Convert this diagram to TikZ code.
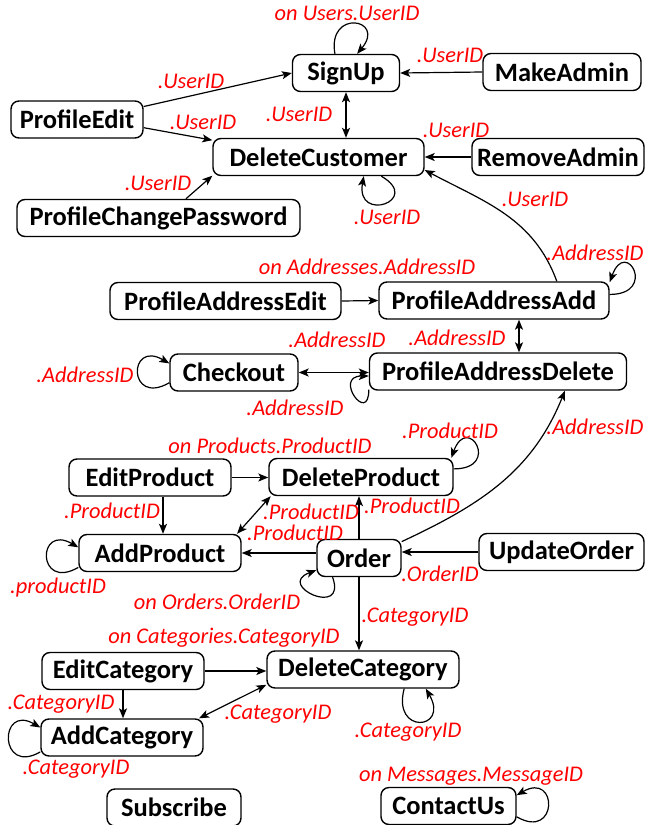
\documentclass[tikz,border=0pt]{standalone}
\usepackage{fontspec}
\setmainfont{Carlito}
\usetikzlibrary{arrows.meta}

\begin{document}
\begin{tikzpicture}[x=0.5pt,y=0.5pt,
    >={Stealth[length=5pt,width=4pt,inset=1.2pt]},
    page/.style={draw,rounded corners=4pt,line width=0.7pt,minimum height=18.5pt,inner sep=0pt,
        font=\fontsize{13.25}{15}\selectfont\bfseries},
    key/.style={text=red,inner sep=0pt,font=\fontsize{11.2}{13}\selectfont\itshape},
    ref/.style={->,line width=0.6pt},
    refboth/.style={<->,line width=0.6pt},
    selfref/.style={->,line width=0.6pt,distance=24pt},
    sideref/.style={->,line width=0.6pt,distance=24pt}]
    \useasboundingbox (0,0) rectangle (645,-825);

    \node[page,minimum width=53.5pt] (signup) at (346,-73) {SignUp};
    \node[page,minimum width=79pt] (makeadmin) at (562,-72) {MakeAdmin};
    \node[page,minimum width=66pt] (profileedit) at (77,-119.5) {ProfileEdit};
    \node[page,minimum width=105.5pt] (deletecustomer) at (318.5,-157) {DeleteCustomer};
    \node[page,minimum width=86pt] (removeadmin) at (558,-157) {RemoveAdmin};
    \node[page,minimum width=141.5pt] (profilechangepassword) at (158.5,-218) {ProfileChangePassword};
    \node[page,minimum width=115.5pt] (profileaddressedit) at (225.5,-301) {ProfileAddressEdit};
    \node[page,minimum width=115pt] (profileaddressadd) at (494,-300.5) {ProfileAddressAdd};
    \node[page,minimum width=64pt] (checkout) at (234,-372.5) {Checkout};
    \node[page,minimum width=128.5pt] (profileaddressdelete) at (498,-371.5) {ProfileAddressDelete};
    \node[page,minimum width=81pt] (editproduct) at (150,-477.5) {EditProduct};
    \node[page,minimum width=92pt] (deleteproduct) at (361,-477) {DeleteProduct};
    \node[page,minimum width=81pt] (addproduct) at (160,-553) {AddProduct};
    \node[page,minimum width=42pt] (order) at (359,-558) {Order};
    \node[page,minimum width=82.5pt] (updateorder) at (561.5,-552) {UpdateOrder};
    \node[page,minimum width=81pt] (editcategory) at (123,-671) {EditCategory};
    \node[page,minimum width=96pt] (deletecategory) at (363,-669.5) {DeleteCategory};
    \node[page,minimum width=81pt] (addcategory) at (122,-737.5) {AddCategory};
    \node[page,minimum width=67pt] (subscribe) at (174,-807.5) {Subscribe};
    \node[page,minimum width=67.5pt] (contactus) at (448.5,-806) {ContactUs};

    \draw[selfref] (signup.120) to[out=100,in=50,distance=23pt] (signup.60);
    \draw[ref] (makeadmin.west) -- (signup.east);
    \draw[ref] (profileedit.11) -- (signup.west);
    \draw[ref] (profileedit.-7) -- (deletecustomer.171);
    \draw[refboth] (signup.south) -- (signup.south |- deletecustomer.north);
    \draw[ref] (removeadmin.west) -- (deletecustomer.east);
    \draw[ref] (profilechangepassword.35) -- (deletecustomer.190);
    \draw[selfref] (deletecustomer.-17.6) to[out=-30,in=-100] (deletecustomer.-23.2);
    \draw[ref] (profileaddressadd.17) to[out=110,in=-28] (deletecustomer.-7);
    \draw[selfref] (profileaddressadd.3.7) to[out=0,in=70] (profileaddressadd.9.7);
    \draw[ref] (profileaddressedit.east) -- (profileaddressadd.west);
    \draw[refboth] ([xshift=12.5pt]profileaddressadd.south) -- ([xshift=12.5pt]profileaddressadd.south |- profileaddressdelete.north);
    \draw[refboth] (checkout.east) -- (checkout.east -| profileaddressdelete.west);
    \draw[sideref] (checkout.189.5) to[out=-150,in=150] (checkout.172.4);
    \draw[selfref] (profileaddressdelete.188.8) to[out=-90,in=180,distance=18pt] (profileaddressdelete.182.5);
    \draw[ref] (order.21) to[out=25,in=-112] (profileaddressdelete.-16);
    \draw[selfref] (deleteproduct.5.6) to[out=0,in=70] (deleteproduct.12.3);
    \draw[ref] (editproduct.east) -- (editproduct.east -| deleteproduct.west);
    \draw[ref] ([xshift=6.5pt]editproduct.south) -- ([xshift=6.5pt]editproduct.south |- addproduct.north);
    \draw[refboth] (deleteproduct.192) -- (addproduct.14);
    \draw[ref] (order.north) -- (order.north |- deleteproduct.south);
    \draw[ref] (order.west |- addproduct.east) -- (addproduct.east);
    \draw[ref] (updateorder.west) -- (updateorder.west -| order.east);
    \draw[sideref] (addproduct.190.5) to[out=-150,in=150] (addproduct.176.5);
    \draw[selfref] (order.216) to[out=-70,in=-160,distance=22pt] (order.196);
    \draw[ref] (order.south) -- (order.south |- deletecategory.north);
    \draw[ref] (editcategory.east) -- (editcategory.east -| deletecategory.west);
    \draw[ref] (editcategory.south) -- (editcategory.south |- addcategory.north);
    \draw[refboth] (addcategory.14) -- (deletecategory.189);
    \draw[sideref] (addcategory.190) to[out=-150,in=150] (addcategory.173.4);
    \draw[selfref] (deletecategory.-25.5) to[out=-105,in=-60] (deletecategory.-17.5);
    \draw[sideref] (contactus.-9) to[out=-30,in=30] (contactus.9);

    \node[key] (lsignup) at (347,-13) {on Users.UserID};
    \node[key] (lmakeadmin) at (450,-55) {.UserID};
    \node[key] (leditsign) at (191,-81) {.UserID};
    \node[key] (leditdelete) at (203,-122) {.UserID};
    \node[key] (lsigndelete) at (299,-114) {.UserID};
    \node[key] (lremoveadmin) at (456,-130) {.UserID};
    \node[key] (lpassword) at (158,-183) {.UserID};
    \node[key] (ldeletecustomer) at (387,-217) {.UserID};
    \node[key] (laddcustomer) at (535,-199) {.UserID};
    \node[key] (laddressadd) at (595,-253) {.AddressID};
    \node[key] (laddressedit) at (367,-267) {on Addresses.AddressID};
    \node[key] (laddressboth) at (457,-338) {.AddressID};
    \node[key] (lcheckoutboth) at (337,-340) {.AddressID};
    \node[key] (lcheckout) at (85,-375) {.AddressID};
    \node[key] (laddressdelete) at (295,-408) {.AddressID};
    \node[key] (lorderaddress) at (595,-427) {.AddressID};
    \node[key] (ldeleteproduct) at (450,-431) {.ProductID};
    \node[key] (leditproduct) at (270,-446) {on Products.ProductID};
    \node[key] (leditadd) at (112,-511) {.ProductID};
    \node[key] (lproductboth) at (311,-512) {.ProductID};
    \node[key] (lproductback) at (295,-533) {.ProductID};
    \node[key] (lorderproduct) at (412,-506) {.ProductID};
    \node[key] (lupdateorder) at (440,-574) {.OrderID};
    \node[key] (laddproduct) at (58,-588) {.productID};
    \node[key] (lorder) at (217,-602) {on Orders.OrderID};
    \node[key] (lordercategory) at (415,-617) {.CategoryID};
    \node[key] (leditcategory) at (224,-638) {on Categories.CategoryID};
    \node[key] (leditaddcat) at (61,-704) {.CategoryID};
    \node[key] (lcategoryboth) at (278,-714) {.CategoryID};
    \node[key] (laddcategory) at (76,-769) {.CategoryID};
    \node[key] (ldeletecategory) at (408,-732) {.CategoryID};
    \node[key] (lcontactus) at (471,-776) {on Messages.MessageID};
\end{tikzpicture}
\end{document}
